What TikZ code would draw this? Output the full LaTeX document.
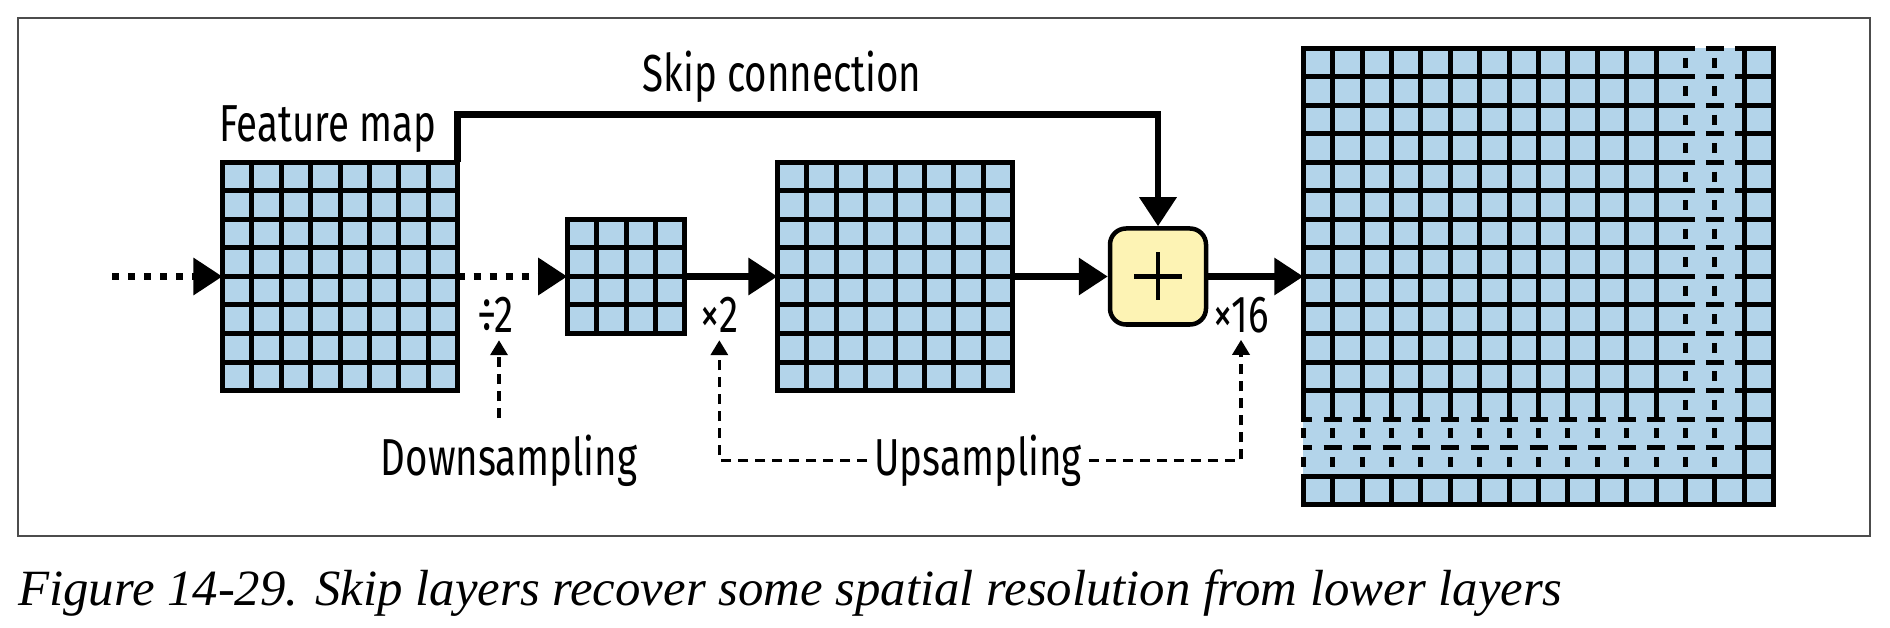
\documentclass[tikz,border=0pt]{standalone}
\usepackage{fontspec}
\usetikzlibrary{arrows.meta}
\newfontfamily\lblfont[FakeStretch=0.74]{Fira Sans}
\newfontfamily\capfont{Liberation Serif}
\definecolor{cellblue}{RGB}{179,212,234}
\definecolor{plusyellow}{RGB}{253,243,180}

\begin{document}
\begin{tikzpicture}[x=1pt, y=-1pt,
  gridline/.style={line width=5pt, line cap=rect},
  hdash/.style={line cap=butt, dash pattern=on 18pt off 11.4pt, dash phase=9pt},
  vdash/.style={line cap=butt, dash pattern=on 10pt off 18.5pt, dash phase=19.25pt},
  mapbox/.style={fill=cellblue, inner sep=0pt, outer sep=0pt},
  cellscope/.style={shift={(#1.north west)}, x=29.4pt, y=-28.5pt},
  flow/.style={line width=6.5pt, -{Triangle[length=29pt, width=36pt]}},
  dotflow/.style={flow, dash pattern=on 7pt off 9pt},
  aux/.style={line width=3.5pt, dash pattern=on 10pt off 7pt, -{Triangle[length=15pt, width=17pt]}, shorten >=7pt},
  lbl/.style={font=\lblfont\fontsize{52}{56}\selectfont, inner sep=0pt},
  outerframe/.style={line width=2pt, black!70}]
\useasboundingbox (0,0) rectangle (1890,628);
\draw[outerframe] (18,18) rectangle (1870,536);

\node[mapbox, minimum width=235.2pt, minimum height=228pt] (feat) at (340,276.5) {};
\node[mapbox, minimum width=117.6pt, minimum height=114pt] (down) at (626,276.5) {};
\node[mapbox, minimum width=235.2pt, minimum height=228pt] (up) at (895,276.5) {};
\node[draw, line width=4.5pt, fill=plusyellow, rounded corners=16pt, minimum size=96pt] (add) at (1158,276.5) {};
\node[mapbox, minimum width=470.4pt, minimum height=456pt] (out) at (1538.5,276.5) {};

\begin{scope}[cellscope=feat]
  \foreach \k in {0,...,8} \draw[gridline] (\k,0) -- (\k,8) (0,\k) -- (8,\k);
\end{scope}
\begin{scope}[cellscope=down]
  \foreach \k in {0,...,4} \draw[gridline] (\k,0) -- (\k,4) (0,\k) -- (4,\k);
\end{scope}
\begin{scope}[cellscope=up]
  \foreach \k in {0,...,8} \draw[gridline] (\k,0) -- (\k,8) (0,\k) -- (8,\k);
\end{scope}
\begin{scope}[cellscope=out]
  \foreach \k in {0,...,12} \draw[gridline] (\k,0) -- (\k,13) (\k,15) -- (\k,16) (0,\k) -- (13,\k) (15,\k) -- (16,\k);
  \foreach \k in {13,14} \draw[gridline] (\k,15) -- (\k,16) (15,\k) -- (16,\k);
  \foreach \k in {15,16} \draw[gridline] (\k,0) -- (\k,16) (0,\k) -- (16,\k);
  \foreach \k in {0,...,12} \draw[gridline, vdash] (\k,13) -- (\k,15);
  \foreach \k in {0,...,12} \draw[gridline, hdash] (13,\k) -- (15,\k);
  \foreach \k in {13,14} \draw[gridline, vdash] (\k,0) -- (\k,15);
  \foreach \k in {13,14} \draw[gridline, hdash] (0,\k) -- (15,\k);
\end{scope}

\draw[line width=4.5pt] (add.center) ++(-24,0) -- ++(48,0) (add.center) ++(0,-24) -- ++(0,48);

\coordinate (src) at (112,276.5);
\draw[dotflow] (src) -- (feat.west);
\draw[dotflow] (feat.east) -- (down.west);
\draw[flow] (down.east) -- (up.west);
\draw[flow] (up.east) -- (add.west);
\draw[flow] (add.east) -- (out.west);
\draw[flow] (feat.north east) -- ++(0,-48) -| (add.north);

\node[lbl, anchor=base west] (fmlbl) at (219,142) {Feature map};
\node[lbl, anchor=base] (skiplbl) at (782,92) {Skip connection};
\node[lbl, anchor=base west] (divlbl) at (477,333) {÷2};
\node[lbl, anchor=base west] (x2lbl) at (700,333) {×2};
\node[lbl, anchor=base west] (x16lbl) at (1213,332) {×16};
\node[lbl, anchor=base] (dslbl) at (509,475) {Downsampling};
\node[lbl, anchor=base, inner xsep=7pt] (uslbl) at (978,475) {Upsampling};

\coordinate (dsfoot) at (499,418);
\draw[aux] (dsfoot) -- (dsfoot |- divlbl.south);
\draw[aux] (uslbl.west) -| (x2lbl.south);
\draw[aux] (uslbl.east) -| (x16lbl.south);

\node[anchor=base west, inner sep=0pt, font=\capfont\itshape\fontsize{50.8}{56}\selectfont] (caption) at (18,605) {Figure 14-29. Skip layers recover some spatial resolution from lower layers};
\end{tikzpicture}
\end{document}
